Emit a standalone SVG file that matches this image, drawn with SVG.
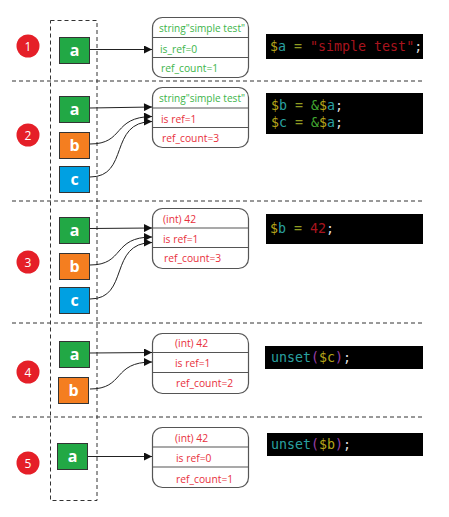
<svg xmlns="http://www.w3.org/2000/svg" width="449" height="517" viewBox="0 0 449 517">
<style>
.dash{fill:none;stroke:#333;stroke-width:1;stroke-dasharray:4,3}
.num circle{fill:#e51f28}
.num text{fill:#fff;font-family:"Open Sans","Noto Sans",sans-serif;font-size:12px;text-anchor:middle}
.var text{fill:#fff;font-family:"Open Sans","Noto Sans",sans-serif;font-size:16px;font-weight:bold;text-anchor:middle}
.var rect{stroke:#333;stroke-width:1}
.ga{fill:#22a845}.ob{fill:#f47e20}.bc{fill:#00a0e2}
.rec rect{fill:#fff;stroke:#555;stroke-width:1.2}
.rec line{stroke:#555;stroke-width:1.2}
.rec text{font-family:"Open Sans","Noto Sans",sans-serif;font-size:10.3px}
.g{fill:#3db54a}.r{fill:#e8303c}
.code rect{fill:#000}
.code text{font-family:"DejaVu Sans Mono","Liberation Mono",monospace;font-size:13.3px;white-space:pre}
.d{fill:#b5a51a}.v{fill:#2aa1a0}.o{fill:#8f9c22}.s{fill:#a8141e}.w{fill:#ddd}.a{fill:#42a832}.p{fill:#9b3fa8}
.con path{fill:none;stroke:#222;stroke-width:1;marker-end:url(#ah)}
</style>
<defs>
<marker id="ah" viewBox="0 0 10 10" refX="10" refY="5" markerWidth="9" markerHeight="8" markerUnits="userSpaceOnUse" orient="auto">
<path d="M0,0 L10,5 L0,10 z" fill="#111"/>
</marker>
</defs>
<rect width="449" height="517" fill="#fff"/>
<g id="separators">
<rect class="dash" x="50.5" y="20.5" width="46.5" height="480"/>
<line class="dash" x1="12" y1="81" x2="423" y2="81"/>
<line class="dash" x1="12" y1="201" x2="423" y2="201"/>
<line class="dash" x1="12" y1="323" x2="423" y2="323"/>
<line class="dash" x1="12" y1="417" x2="423" y2="417"/>
</g>
<g id="step1" class="num"><circle cx="28" cy="46" r="11.5"/><text x="28" y="50.5">1</text></g>
<g id="step2" class="num"><circle cx="28" cy="135" r="11.5"/><text x="28" y="139.5">2</text></g>
<g id="step3" class="num"><circle cx="28" cy="262" r="11.5"/><text x="28" y="266.5">3</text></g>
<g id="step4" class="num"><circle cx="28" cy="372" r="11.5"/><text x="28" y="376.5">4</text></g>
<g id="step5" class="num"><circle cx="28" cy="463" r="11.5"/><text x="28" y="467.5">5</text></g>

<g id="s1a" class="var"><rect class="ga" x="59.5" y="37.5" width="30" height="26"/><text x="74.5" y="56">a</text></g>
<g id="s2a" class="var"><rect class="ga" x="59.5" y="96.5" width="30" height="26"/><text x="74.5" y="115">a</text></g>
<g id="s2b" class="var"><rect class="ob" x="59.5" y="132.5" width="30" height="26"/><text x="74.5" y="151">b</text></g>
<g id="s2c" class="var"><rect class="bc" x="59.5" y="166.5" width="30" height="26"/><text x="74.5" y="185">c</text></g>
<g id="s3a" class="var"><rect class="ga" x="59.5" y="217.5" width="30" height="26"/><text x="74.5" y="236">a</text></g>
<g id="s3b" class="var"><rect class="ob" x="59.5" y="253.5" width="30" height="26"/><text x="74.5" y="272">b</text></g>
<g id="s3c" class="var"><rect class="bc" x="59.5" y="287.5" width="30" height="26"/><text x="74.5" y="306">c</text></g>
<g id="s4a" class="var"><rect class="ga" x="59.5" y="341.5" width="30" height="26"/><text x="74.5" y="360">a</text></g>
<g id="s4b" class="var"><rect class="ob" x="58.5" y="377.5" width="30" height="26"/><text x="73.5" y="396">b</text></g>
<g id="s5a" class="var"><rect class="ga" x="57.5" y="443.5" width="30" height="26"/><text x="72.5" y="462">a</text></g>

<g id="rec1" class="rec">
<rect x="152.5" y="17.5" width="96" height="60" rx="10"/>
<line x1="152.5" y1="37.5" x2="248.5" y2="37.5"/><line x1="152.5" y1="57.5" x2="248.5" y2="57.5"/>
<text class="g" x="159" y="32" textLength="86" lengthAdjust="spacingAndGlyphs">string"simple test"</text>
<text class="g" x="160" y="53">is_ref=0</text>
<text class="g" x="161" y="72">ref_count=1</text>
</g>
<g id="rec2" class="rec">
<rect x="152.5" y="87.5" width="96" height="60" rx="10"/>
<line x1="152.5" y1="108" x2="248.5" y2="108"/><line x1="152.5" y1="127.5" x2="248.5" y2="127.5"/>
<text class="g" x="159" y="102" textLength="86" lengthAdjust="spacingAndGlyphs">string"simple test"</text>
<text class="r" x="161" y="123">is ref=1</text>
<text class="r" x="162" y="142">ref_count=3</text>
</g>
<g id="rec3" class="rec">
<rect x="152.5" y="208.5" width="96" height="60" rx="10"/>
<line x1="152.5" y1="228" x2="248.5" y2="228"/><line x1="152.5" y1="247.5" x2="248.5" y2="247.5"/>
<text class="r" x="163" y="223">(int) 42</text>
<text class="r" x="163" y="243">is ref=1</text>
<text class="r" x="164" y="262">ref_count=3</text>
</g>
<g id="rec4" class="rec">
<rect x="152.5" y="333.5" width="96" height="60" rx="10"/>
<line x1="152.5" y1="352.5" x2="248.5" y2="352.5"/><line x1="152.5" y1="372.5" x2="248.5" y2="372.5"/>
<text class="r" x="175" y="347">(int) 42</text>
<text class="r" x="175" y="367">is ref=1</text>
<text class="r" x="176" y="387">ref_count=2</text>
</g>
<g id="rec5" class="rec">
<rect x="152.5" y="427.5" width="96" height="60" rx="10"/>
<line x1="152.5" y1="447" x2="248.5" y2="447"/><line x1="152.5" y1="467" x2="248.5" y2="467"/>
<text class="r" x="175" y="442">(int) 42</text>
<text class="r" x="176" y="462">is ref=0</text>
<text class="r" x="176" y="483">ref_count=1</text>
</g>

<g id="code1" class="code"><rect x="266" y="34" width="157" height="25"/>
<text x="270" y="51"><tspan class="d">$</tspan><tspan class="v">a</tspan><tspan class="o"> = </tspan><tspan class="s">"simple test"</tspan><tspan class="w">;</tspan></text></g>
<g id="code2" class="code"><rect x="266" y="93" width="157" height="41"/>
<text x="271" y="110"><tspan class="d">$</tspan><tspan class="v">b</tspan><tspan class="o"> = </tspan><tspan class="a">&amp;</tspan><tspan class="d">$</tspan><tspan class="v">a</tspan><tspan class="w">;</tspan></text>
<text x="271" y="127"><tspan class="d">$</tspan><tspan class="v">c</tspan><tspan class="o"> = </tspan><tspan class="a">&amp;</tspan><tspan class="d">$</tspan><tspan class="v">a</tspan><tspan class="w">;</tspan></text></g>
<g id="code3" class="code"><rect x="266" y="214" width="157" height="30"/>
<text x="270" y="233"><tspan class="d">$</tspan><tspan class="v">b</tspan><tspan class="o"> = </tspan><tspan class="s">42</tspan><tspan class="w">;</tspan></text></g>
<g id="code4" class="code"><rect x="265" y="346" width="158" height="23"/>
<text x="271" y="362"><tspan class="v">unset</tspan><tspan class="p">(</tspan><tspan class="d">$c</tspan><tspan class="p">)</tspan><tspan class="w">;</tspan></text></g>
<g id="code5" class="code"><rect x="267" y="433" width="156" height="23"/>
<text x="271" y="449"><tspan class="v">unset</tspan><tspan class="p">(</tspan><tspan class="d">$b</tspan><tspan class="p">)</tspan><tspan class="w">;</tspan></text></g>

<g id="connectors" class="con">
<path d="M90,49.5 L152,49.5"/>
<path d="M90,108 L152,107"/>
<path d="M90,144 C125,144 112,117 152,116.5"/>
<path d="M90,177 C130,177 108,122 152,121.5"/>
<path d="M90,228.5 L152,228"/>
<path d="M90,265 C125,265 112,237 152,237"/>
<path d="M90,299 C130,299 108,243 152,242.5"/>
<path d="M90,353 L152,352.5"/>
<path d="M90,389 C125,389 112,362 152,362"/>
<path d="M88,456.5 L152,456.5"/>
</g>
</svg>
